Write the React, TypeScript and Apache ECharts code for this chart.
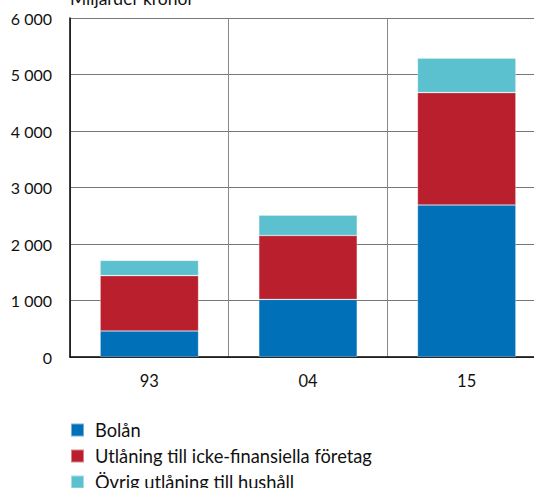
import React, { useEffect, useRef } from "react";
import * as echarts from "echarts";

const years = ["93", "04", "15"];
const bolan = [460, 1020, 2690];
const foretag = [980, 1130, 1990];
const ovrigt = [270, 360, 610];
const yTicks = [0, 1000, 2000, 3000, 4000, 5000, 6000];
const seriesNames = [
  "Bolån",
  "Utlåning till icke-finansiella företag",
  "Övrig utlåning till hushåll",
];

const FONT = "Lato, 'Open Sans', sans-serif";

const fmt = (v: number) =>
  String(v).replace(/\B(?=(\d{3})+(?!\d))/g, " ");

export default function App() {
  const ref = useRef<HTMLDivElement>(null);

  useEffect(() => {
    if (!ref.current) return;
    const chart = echarts.init(ref.current, null, { renderer: "svg" });
    const barStyle = (color: string) => ({
      color,
      borderColor: "rgba(255,255,255,0.45)",
      borderWidth: 0.6,
    });
    // one legend per row so the list never wraps into a second column
    const legends = seriesNames.map((name, i) => ({
      orient: "vertical",
      left: 70,
      top: 421 + i * 26,
      padding: 0,
      itemWidth: 13,
      itemHeight: 13,
      icon: "rect",
      textStyle: { fontSize: 18.3, color: "#111", padding: [0, 0, 0, 6], fontFamily: FONT },
      data: [name],
    }));
    chart.setOption({
      animation: false,
      textStyle: { fontFamily: FONT },
      grid: {
        left: 70,
        top: 18,
        width: 476,
        height: 339,
        containLabel: false,
        outerBoundsMode: "none",
      },
      graphic: [
        {
          type: "text",
          left: 70,
          top: -11,
          style: { text: "Miljarder kronor", fontSize: 17.5, fill: "#111", fontFamily: FONT },
        },
      ],
      legend: legends,
      xAxis: {
        type: "category",
        data: years,
        boundaryGap: true,
        axisLine: { lineStyle: { color: "#000", width: 1.5 } },
        axisTick: { show: false },
        axisLabel: { color: "#111", fontSize: 16.5, margin: 15, fontFamily: FONT },
        splitLine: { show: true, lineStyle: { color: "#888", width: 1 } },
      },
      yAxis: {
        type: "value",
        min: yTicks[0],
        max: yTicks[yTicks.length - 1],
        interval: 1000,
        axisLine: { show: true, lineStyle: { color: "#000", width: 1.5 } },
        axisTick: { show: false },
        axisLabel: {
          color: "#111",
          fontSize: 16,
          margin: 18,
          fontFamily: FONT,
          formatter: (v: number) => fmt(v),
        },
        splitLine: { show: true, lineStyle: { color: "#777", width: 1 } },
      },
      series: [
        {
          name: seriesNames[0],
          type: "bar",
          stack: "total",
          barWidth: "62%",
          data: bolan,
          itemStyle: barStyle("#0070b8"),
        },
        {
          name: seriesNames[1],
          type: "bar",
          stack: "total",
          data: foretag,
          itemStyle: barStyle("#b91f2c"),
        },
        {
          name: seriesNames[2],
          type: "bar",
          stack: "total",
          data: ovrigt,
          itemStyle: barStyle("#5bc1cf"),
        },
      ],
    });
    return () => chart.dispose();
  }, []);

  return (
    <div
      ref={ref}
      style={{ position: "fixed", left: 0, top: 0, width: 534, height: 488, background: "#fff" }}
    />
  );
}
